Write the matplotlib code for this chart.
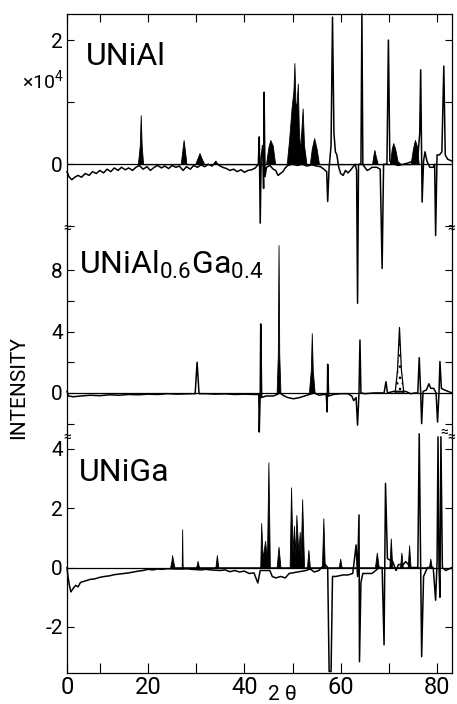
import matplotlib
matplotlib.use('Agg')
import matplotlib.pyplot as plt

plt.rcParams['font.family'] = ['Roboto', 'DejaVu Sans']

# UNiAl difference curve (x10^4)
al_x = [3.2, 3.6, 4.2, 4.8, 5.5, 6.2, 7.0, 7.8, 8.5, 9.3, 10.0, 10.8, 11.5, 12.3, 13.0,
        13.8, 14.5, 15.3, 16.0, 16.8, 17.5, 18.2, 19.0, 19.8, 20.5, 21.3, 22.0, 22.8,
        23.5, 24.3, 25.0, 25.8, 26.5, 27.3, 28.0, 28.8, 29.5, 30.3, 31.0, 31.8, 32.5,
        33.3, 34.0, 34.8, 35.5, 36.3, 37.0, 37.8, 38.5, 39.3, 40.0, 40.8, 41.5, 42.3,
        42.9, 43.1, 43.3, 43.5, 43.8, 44.0, 44.1, 44.3, 44.6, 45.3, 46.0, 46.5, 47.0,
        47.5, 48.0, 48.5, 49.0, 50.0, 51.0, 52.0, 53.0, 54.0, 55.0, 55.8, 56.5, 57.1,
        57.3, 57.6, 58.0, 58.3, 58.6, 58.9, 59.2, 59.6, 60.0, 60.5, 61.0, 61.5, 62.0,
        62.5, 63.0, 63.3, 63.5, 63.7, 64.2, 64.4, 64.6, 65.0, 65.5, 66.0, 66.5, 67.5,
        68.2, 68.6, 68.9, 69.6, 69.9, 70.2, 71.0, 72.0, 73.0, 74.0, 75.0, 76.0, 76.4,
        76.6, 76.9, 77.2, 77.5, 77.9, 78.5, 79.2, 79.5, 79.7, 80.0, 80.5, 81.0, 81.4,
        81.7, 82.2, 83.1]
al_y = [-0.12, -0.2, -0.25, -0.21, -0.18, -0.21, -0.15, -0.18, -0.12, -0.15, -0.1, -0.14,
        -0.08, -0.12, -0.06, -0.1, -0.05, -0.09, -0.06, -0.1, -0.05, -0.02, -0.08, -0.04,
        -0.1, -0.05, -0.02, -0.06, -0.03, -0.07, -0.02, -0.05, -0.03, -0.1, -0.04, -0.08,
        -0.02, -0.05, -0.01, -0.04, 0.0, -0.03, 0.03, -0.02, -0.05, -0.07, -0.1, -0.08,
        -0.12, -0.09, -0.13, -0.1, -0.09, -0.06,
        0.0, 0.44, -0.95, 0.1, 0.3, -0.39, 1.16, -0.2, -0.05, -0.02, -0.08, -0.1, -0.18,
        -0.15, -0.12, -0.06, -0.02, 0.0, -0.02, 0.0, -0.03, -0.01, -0.03, -0.04, -0.08,
        -0.12, -0.6, -0.05, 0.3, 2.37, 0.5, 0.2, 0.15, -0.05, -0.15, -0.18, -0.1, -0.14,
        -0.1, -0.05, 0.0, -0.1, -2.24, 0.0, 0.0, 2.42, 0.0, -0.05, -0.1, -0.08, -0.05,
        -0.05, -0.08, -1.68, 0.0, 0.0, 2.0, 0.05, 0.0, -0.02, 0.0, 0.02, 0.05, 0.1, 0.5,
        1.52, -0.61, 0.05, 0.2, 0.05, -0.05, -0.05, 0.0, -1.15, 0.15, 0.15, 0.2, 1.58,
        0.15, 0.08, 0.05]
# UNiAl filled peaks
al_fill_x = [17.9, 18.3, 18.5, 18.7, 19.0, 26.8, 27.1, 27.4, 27.7, 28.0, 29.8, 30.3, 30.7,
             31.1, 31.7, 33.6, 34.0, 34.4, 44.5, 45.0, 45.4, 45.9, 46.4, 48.8, 49.3, 49.8,
             50.2, 50.4, 50.6, 50.8, 51.1, 51.3, 51.6, 51.8, 52.1, 52.4, 52.9, 53.6, 54.0,
             54.5, 55.0, 55.5, 66.5, 66.8, 67.0, 67.3, 67.7, 70.2, 70.6, 70.9, 71.3, 71.8,
             72.5, 74.5, 75.0, 75.4, 75.8, 76.2]
al_fill_y = [0, 0.3, 0.79, 0.3, 0, 0, 0.2, 0.39, 0.2, 0, 0, 0.1, 0.18, 0.1, 0, 0, 0.06, 0,
             0, 0.28, 0.39, 0.3, 0, 0, 0.4, 0.9, 1.2, 1.63, 1.0, 0.9, 1.3, 0.6, 0.2, 0.5,
             0.9, 0.3, 0, 0, 0.25, 0.42, 0.25, 0, 0, 0.15, 0.23, 0.12, 0, 0, 0.25, 0.34,
             0.25, 0.05, 0, 0, 0.25, 0.39, 0.3, 0]

# UNiAl0.6Ga0.4 difference curve
mix_x = [3.2, 3.5, 4.5, 6.0, 8.0, 10.0, 12.0, 14.0, 16.0, 18.0, 20.0, 22.0, 24.0, 26.0,
         28.0, 29.8, 30.0, 30.2, 30.4, 30.6, 32.0, 34.0, 36.0, 38.0, 40.0, 42.0, 43.0,
         43.1, 43.3, 43.4, 43.6, 44.5, 46.0, 46.8, 47.4, 48.0, 49.0, 50.2, 51.5, 52.5,
         53.5, 54.5, 55.5, 56.5, 57.0, 57.2, 57.3, 57.5, 58.5, 60.0, 61.5, 62.3, 62.7,
         63.2, 63.5, 63.8, 64.0, 64.2, 65.0, 67.0, 69.0, 69.4, 69.7, 71.0, 73.5, 74.5,
         75.5, 76.0, 76.3, 76.6, 76.8, 77.1, 77.8, 78.3, 78.7, 79.3, 79.8, 80.1, 80.4,
         80.6, 80.9, 81.5, 83.1]
mix_y = [0.1, -0.2, -0.25, -0.2, -0.15, -0.18, -0.12, -0.15, -0.1, -0.12, -0.08, -0.1,
         -0.05, -0.08, -0.06, -0.05, 1.0, 2.0, 1.0, -0.05, -0.05, -0.08, -0.06, -0.1,
         -0.08, -0.1, -0.1, -2.55, 0.0, 4.5, -0.3, -0.2, -0.2, -0.1, 0.0, -0.15, -0.3,
         -0.38, -0.3, -0.2, -0.1, 0.0, -0.15, -0.1, -0.1, -1.24, 1.87, -0.2, -0.1, -0.05,
         -0.05, -0.2, -0.5, -0.3, -2.1, 0.0, 3.45, 0.0, -0.05, 0.0, 0.0, 0.73, 0.0, 0.1,
         0.1, -0.05, 0.0, 0.0, 2.3, 0.0, -2.0, 0.1, 0.2, 0.6, 0.3, 0.3, 0.0, -1.9, 0.0,
         2.05, 0.3, 0.2, 0.0]
mix_fill_x = [46.7, 46.95, 47.1, 47.25, 47.5, 53.4, 53.8, 54.0, 54.2, 54.6]
mix_fill_y = [0, 2.5, 9.65, 2.5, 0, 0, 1.5, 3.9, 1.5, 0]
mix_hatch_x = [71.3, 71.8, 72.2, 72.6, 73.1]
mix_hatch_y = [0, 1.5, 4.27, 1.5, 0]

# UNiGa difference curve
ga_x = [3.2, 3.4, 3.7, 4.0, 4.5, 5.0, 5.5, 6.0, 7.0, 8.0, 9.0, 10.0, 11.0, 12.0, 13.0,
        14.0, 15.0, 16.0, 17.0, 18.0, 19.0, 20.0, 21.0, 22.0, 23.0, 24.0, 26.0, 26.8,
        27.4, 28.0, 29.0, 31.0, 32.0, 33.0, 35.0, 36.0, 37.0, 38.0, 39.0, 40.0, 41.0,
        42.0, 42.8, 43.3, 45.3, 45.8, 46.5, 47.6, 48.5, 49.3, 52.8, 53.7, 54.5, 55.5,
        56.0, 56.8, 57.3, 57.6, 58.0, 58.3, 59.0, 60.5, 61.5, 62.5, 63.2, 63.5, 63.8,
        63.9, 64.2, 64.6, 65.5, 66.5, 68.0, 68.6, 69.0, 69.3, 69.7, 70.8, 71.5, 72.0,
        73.0, 73.5, 74.6, 75.5, 76.0, 76.3, 76.6, 76.8, 77.2, 78.0, 79.2, 79.7, 80.0,
        80.2, 80.4, 80.6, 80.8, 81.1, 81.8, 83.1]
ga_y = [0.0, -0.3, -0.6, -0.82, -0.7, -0.6, -0.65, -0.5, -0.45, -0.4, -0.38, -0.33, -0.3,
        -0.28, -0.24, -0.22, -0.2, -0.18, -0.15, -0.12, -0.1, -0.06, -0.08, -0.05, -0.06,
        -0.04, -0.05, -0.05, -0.05, -0.04, -0.06, -0.08, -0.06, -0.08, -0.1, -0.08, -0.14,
        -0.1, -0.15, -0.12, -0.2, -0.18, -0.52, -0.1, -0.1, -0.3, -0.35, -0.3, -0.35,
        -0.2, -0.1, -0.05, -0.15, -0.1, 0.0, 0.1, 0.0, -3.5, -3.5, -0.3, -0.3, -0.25,
        -0.25, -0.2, 0.76, -0.3, 1.77, -3.17, -0.5, -0.2, -0.2, -0.2, 0.0, 0.0, -2.6,
        2.83, 0.3, 0.2, -0.1, 0.1, 0.1, 0.2, 0.0, 0.0, 0.0, 4.5, 0.0, -3.0, -0.3, 0.0,
        0.0, -1.1, 0.2, 4.4, 0.0, -1.0, 4.4, 0.0, -0.1, 0.0]
ga_fill_x = [24.6, 24.9, 25.0, 25.2, 25.5, 27.0, 27.1, 27.2, 30.0, 30.3, 30.6, 34.0, 34.3,
             34.6, 43.3, 43.5, 43.8, 44.3, 44.7, 45.0, 45.3, 46.7, 47.1, 47.5, 49.4, 49.7,
             50.0, 50.3, 50.6, 50.8, 51.2, 51.5, 51.7, 52.0, 52.4, 53.0, 53.3, 53.6, 56.1,
             56.4, 56.7, 59.6, 59.9, 60.2, 67.1, 67.5, 67.9, 70.1, 70.4, 70.7, 72.3, 72.6,
             72.9, 73.9, 74.2, 74.5, 78.3, 78.6, 78.9]
ga_fill_y = [0, 0.25, 0.42, 0.25, 0, 0, 1.29, 0, 0, 0.22, 0, 0, 0.42, 0, 0, 1.5, 0.3, 0.9,
             0.3, 3.54, 0, 0, 0.7, 0, 0, 2.7, 0.5, 1.4, 0.4, 1.77, 0.5, 1.2, 0.3, 2.3, 0,
             0, 0.59, 0, 0, 1.66, 0, 0, 0.3, 0, 0, 0.5, 0, 0, 0.98, 0, 0, 0.5, 0, 0, 0.75,
             0, 0, 0.3, 0]

x_ticks = [3.2, 10, 20, 30, 40, 50, 60, 70, 80]
x_labels = ['0', '', '20', '', '40', '', '60', '', '80']

fig = plt.figure(figsize=(4.57, 7.04), dpi=100)
L, W = 67 / 457, 385 / 457
ax1 = fig.add_axes([L, 1 - 230 / 704, W, 216 / 704])
ax2 = fig.add_axes([L, 1 - 438 / 704, W, 208 / 704], sharex=ax1)
ax3 = fig.add_axes([L, 1 - 673 / 704, W, 235 / 704], sharex=ax1)

panels = [
    (ax1, al_x, al_y, al_fill_x, al_fill_y, (-1.06, 2.42), [-1, 0, 1, 2], ['', '0', '', '2']),
    (ax2, mix_x, mix_y, mix_fill_x, mix_fill_y, (-2.94, 10.63), [-2, 0, 2, 4, 6, 8],
     ['', '0', '', '4', '', '8']),
    (ax3, ga_x, ga_y, ga_fill_x, ga_fill_y, (-3.55, 4.36), [-2, 0, 2, 4],
     ['-2', '0', '2', '4']),
]
for ax, x, y, fx, fy, lim, yt, yl in panels:
    ax.set_facecolor('none')
    ax.axhline(0, color='k', lw=0.9)
    ax.fill_between(fx, 0, fy, color='k', lw=0.6, clip_on=False)
    ax.plot(x, y, color='k', lw=1.1, clip_on=False)
    ax.set_ylim(*lim)
    ax.set_yticks(yt)
    ax.set_yticklabels(yl, fontsize=15)
    ax.tick_params(axis='y', direction='in', length=5, right=True, pad=3)
    for s in ax.spines.values():
        s.set_linewidth(0.9)

ax2.fill_between(mix_hatch_x, 0, mix_hatch_y, facecolor='white', edgecolor='k',
                 hatch='...', lw=0.9)

ax1.spines['bottom'].set_visible(False)
ax2.spines['top'].set_visible(False)
ax2.spines['bottom'].set_visible(False)
ax3.spines['top'].set_visible(False)

ax3.set_xlim(3.2, 83.1)
ax3.set_xticks(x_ticks)
ax3.set_xticklabels(x_labels, fontsize=17)
ax3.tick_params(axis='x', direction='in', length=7, pad=2)
ax1.tick_params(axis='x', direction='in', length=6, top=True, bottom=False,
                labelbottom=False)
ax2.tick_params(axis='x', bottom=False, labelbottom=False)

ax1.text(7.1, 1.6, 'UNiAl', fontsize=23)
ax2.text(5.7, 7.8, r'UNiAl$_\mathregular{0.6}$Ga$_\mathregular{0.4}$', fontsize=23)
ax3.text(5.7, 2.9, 'UNiGa', fontsize=23)

fig.text(22 / 457, 1 - 81 / 704, '×10$^\\mathregular{4}$', fontsize=14, va='center')
fig.text(19 / 457, 1 - 388 / 704, 'INTENSITY', fontsize=15, rotation=90,
         ha='center', va='center')
fig.text(282 / 457, 1 - 685 / 704, '2 θ', fontsize=15, ha='center', va='top')

# axis break marks
for yy in (229, 438):
    for xx in (67, 451):
        fig.text(xx / 457, 1 - yy / 704, '≈', fontsize=10, ha='center', va='center')
fig.text(444 / 457, 1 - 433 / 704, '≈', fontsize=10, ha='center', va='center')

fig.savefig('out.png', dpi=100)
